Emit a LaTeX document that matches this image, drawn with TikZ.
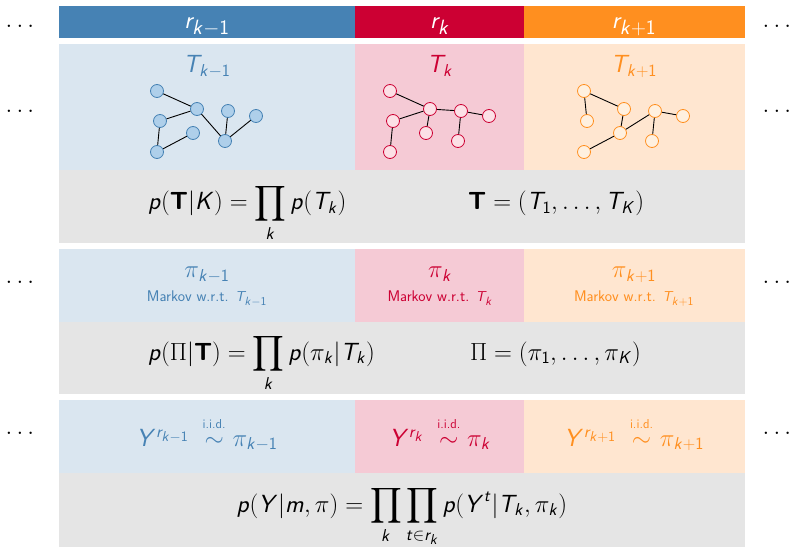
\documentclass[tikz,border=0pt]{standalone}
\usepackage{amsmath}
\usepackage{tikz}
\DeclareSymbolFont{sfletters}{OT1}{cmss}{m}{sl}
\DeclareSymbolFont{sfupright}{OT1}{cmss}{m}{n}
\DeclareMathAlphabet{\mathbsf}{OT1}{cmss}{bx}{n}
\DeclareMathSizes{26}{26}{19}{14}
\DeclareMathSizes{29}{29}{22}{16}
\DeclareMathSizes{15.5}{15.5}{11.5}{9}
\newcount\mcnt
\mcnt=65
\loop
\mathcode\mcnt=\numexpr"7000+\symsfletters*256+\mcnt\relax
\advance\mcnt by 1
\ifnum\mcnt<91 \repeat
\mcnt=97
\loop
\mathcode\mcnt=\numexpr"7000+\symsfletters*256+\mcnt\relax
\advance\mcnt by 1
\ifnum\mcnt<123 \repeat
\mcnt=48
\loop
\mathcode\mcnt=\numexpr"7000+\symsfupright*256+\mcnt\relax
\advance\mcnt by 1
\ifnum\mcnt<58 \repeat
\newcommand{\iidsim}{\;\overset{\raisebox{3bp}{\fontsize{13}{14}\selectfont i.i.d.}}{\sim}}
\definecolor{prevblue}{HTML}{4682B4}
\definecolor{prevbg}{HTML}{DAE6F0}
\definecolor{prevfill}{HTML}{AECFEA}
\definecolor{curred}{HTML}{CC0033}
\definecolor{curbg}{HTML}{F5CAD5}
\definecolor{curfill}{HTML}{FCE0E6}
\definecolor{nextorange}{HTML}{FF8F1F}
\definecolor{nextbg}{HTML}{FFE6D0}
\definecolor{nextfill}{HTML}{FFF0DF}
\definecolor{panelgrey}{HTML}{E5E5E5}
\tikzset{
  txt/.style={font=\sffamily\fontsize{26}{31}\selectfont, inner sep=0pt},
  head/.style={font=\sffamily\fontsize{29}{34}\selectfont, inner sep=0pt, text=white},
  small/.style={font=\sffamily\fontsize{15.5}{18}\selectfont, inner sep=0pt},
  tnode/.style={circle, draw, line width=0.8bp, minimum size=13bp, inner sep=0pt},
  tedge/.style={line width=0.9bp}
}

\begin{document}
\begin{tikzpicture}[x=1bp,y=-1bp]
\useasboundingbox (0,0) rectangle (792,547);
\fill[prevblue] (59,6) rectangle (355,38);
\fill[curred] (355,6) rectangle (524,38);
\fill[nextorange] (524,6) rectangle (745,38);
\fill[prevbg] (59,44) rectangle (355,170);
\fill[curbg] (355,44) rectangle (524,170);
\fill[nextbg] (524,44) rectangle (745,170);
\fill[panelgrey] (59,170) rectangle (745,243);
\fill[prevbg] (59,249) rectangle (355,322);
\fill[curbg] (355,249) rectangle (524,322);
\fill[nextbg] (524,249) rectangle (745,322);
\fill[panelgrey] (59,322) rectangle (745,394);
\fill[prevbg] (59,400) rectangle (355,473);
\fill[curbg] (355,400) rectangle (524,473);
\fill[nextbg] (524,400) rectangle (745,473);
\fill[panelgrey] (59,473) rectangle (745,547);

\foreach \r/\y in {1/28,2/113,3/284,4/434} {
  \node[txt, anchor=base] (ldots\r) at (22,\y) {$\dots$};
  \node[txt, anchor=base] (rdots\r) at (779,\y) {$\dots$};
}

\node[head, anchor=base] (rprev) at (207,29) {$r_{k-1}$};
\node[head, anchor=base] (rcur) at (440,29) {$r_k$};
\node[head, anchor=base] (rnext) at (634,29) {$r_{k+1}$};

\node[txt, text=prevblue, anchor=base] (Tprev) at (207,73) {$T_{k-1}$};
\node[txt, text=curred, anchor=base] (Tcur) at (440,73) {$T_k$};
\node[txt, text=nextorange, anchor=base] (Tnext) at (634,73) {$T_{k+1}$};

\foreach \n/\x/\y in {1/-50/91,2/-10/109,3/-47/121,4/-50/152,5/-14/133,6/21/111,7/18/141,8/49/116} {
  \node[tnode, draw=prevblue, fill=prevfill] (a\n) at (207+\x,\y) {};
  \node[tnode, draw=curred, fill=curfill] (b\n) at (440+\x,\y) {};
  \node[tnode, draw=nextorange, fill=nextfill] (c\n) at (634+\x,\y) {};
}
\foreach \i/\j in {1/2,2/3,3/4,4/5,2/7,6/7,7/8}
  \draw[tedge] (a\i) -- (a\j);
\foreach \i/\j in {1/2,2/3,3/4,2/5,2/6,6/7,6/8}
  \draw[tedge] (b\i) -- (b\j);
\foreach \i/\j in {1/2,1/3,2/5,5/4,5/6,6/7,6/8}
  \draw[tedge] (c\i) -- (c\j);

\node[txt, anchor=base west] (pT) at (148,210) {$\displaystyle p(\mathbsf{T}|K)=\prod_k p(T_k)$};
\node[txt, anchor=base west] (Tdef) at (468,210) {$\mathbsf{T}=(T_1,\dots,T_K)$};

\node[txt, text=prevblue, anchor=base] (piprev) at (207,278) {$\pi_{k-1}$};
\node[txt, text=curred, anchor=base] (picur) at (440,278) {$\pi_k$};
\node[txt, text=nextorange, anchor=base] (pinext) at (634,278) {$\pi_{k+1}$};
\node[small, text=prevblue, anchor=base] (mprev) at (207,302) {Markov w.r.t. $T_{k-1}$};
\node[small, text=curred, anchor=base] (mcur) at (440,302) {Markov w.r.t. $T_k$};
\node[small, text=nextorange, anchor=base] (mnext) at (634,302) {Markov w.r.t. $T_{k+1}$};

\node[txt, anchor=base west] (pPi) at (148,360) {$\displaystyle p(\Pi|\mathbsf{T})=\prod_k p(\pi_k|T_k)$};
\node[txt, anchor=base west] (Pidef) at (470,360) {$\Pi=(\pi_1,\dots,\pi_K)$};

\node[txt, text=prevblue, anchor=base] (Yprev) at (207,446) {$Y^{r_{k-1}}\iidsim\pi_{k-1}$};
\node[txt, text=curred, anchor=base] (Ycur) at (440,446) {$Y^{r_k}\iidsim\pi_k$};
\node[txt, text=nextorange, anchor=base] (Ynext) at (634,446) {$Y^{r_{k+1}}\iidsim\pi_{k+1}$};

\node[txt, anchor=base] (pY) at (402,512) {$\displaystyle p(Y|m,\pi)=\prod_k\prod_{t\in r_k}p(Y^t|T_k,\pi_k)$};
\end{tikzpicture}
\end{document}
